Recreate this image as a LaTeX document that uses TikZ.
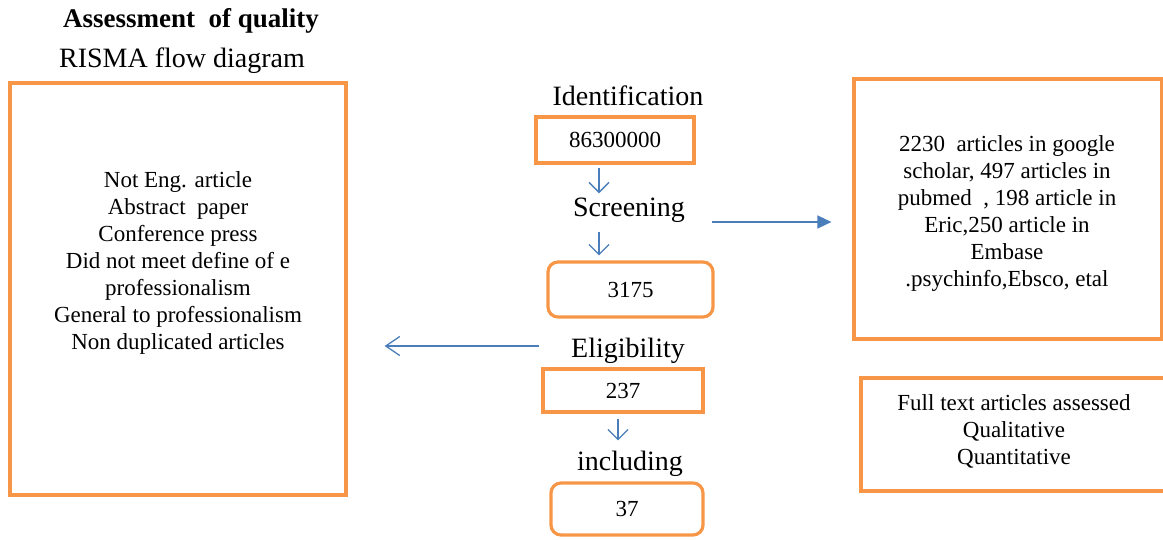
\documentclass[tikz,border=0pt]{standalone}
\usepackage{fontspec}
\setmainfont{Liberation Serif}
\usetikzlibrary{arrows.meta}
\definecolor{boxorange}{HTML}{F79646}
\definecolor{arrowblue}{HTML}{4A7EBB}
\begin{document}
\begin{tikzpicture}[x=1pt,y=-1pt,
  obox/.style={draw=boxorange,line width=3.2pt,inner sep=0pt,font=\fontsize{23}{27}\selectfont},
  rbox/.style={obox,rounded corners=10pt},
  head/.style={anchor=base,inner sep=3pt,font=\fontsize{28}{32}\selectfont},
  body/.style={align=center,inner sep=0pt,font=\fontsize{23}{27}\selectfont},
  flow/.style={draw=arrowblue,line width=1.3pt,-{Straight Barb[length=10pt,width=20pt]}},
  flowl/.style={draw=arrowblue,line width=1.3pt,-{Straight Barb[length=14pt,width=19pt]}},
  flowr/.style={draw=arrowblue,line width=1.6pt,-{Triangle[length=14pt,width=13pt]}}]
\useasboundingbox (0,0) rectangle (1163,540);

% titles
\node[anchor=base,inner sep=0pt,font=\fontsize{27}{32}\selectfont\bfseries] (title) at (191,28) {Assessment\ \ of quality};
\node[anchor=base,inner sep=0pt,font=\fontsize{28}{32}\selectfont] (subtitle) at (182,68) {RISMA flow diagram};

% left box
\node[obox,minimum width=336pt,minimum height=412pt] (lbox) at (178,289) {};
\node[body] (ltext) at (178,263) {Not Eng. article\\Abstract\ \ paper\\Conference press\\Did not meet define of e\\professionalism\\General to professionalism\\Non duplicated articles};

% central column
\node[head] (ident) at (628,106) {Identification};
\node[obox,minimum width=158pt,minimum height=46pt] (b1) at (615,140) {86300000};
\node[head] (screen) at (629,217) {Screening};
\node[rbox,minimum width=165pt,minimum height=55pt] (b2) at (630.5,289.5) {3175};
\node[head] (elig) at (628,358) {Eligibility};
\node[obox,minimum width=160pt,minimum height=43pt] (b3) at (623,390.5) {237};
\node[head] (incl) at (630,470) {including};
\node[rbox,minimum width=152pt,minimum height=52pt] (b4) at (627,509) {37};

% right boxes
\node[obox,minimum width=308pt,minimum height=260pt] (rtop) at (1008,209) {};
\node[body] (rtoptext) at (1007,214) {2230\ \ articles in google\\scholar, 497 articles in\\pubmed\ \ , 198 article in\\Eric,250 article\ in\\Embase\\.psychinfo,Ebsco, etal};
\node[obox,minimum width=304pt,minimum height=113pt] (rbot) at (1013,434.5) {};
\node[body] (rbottext) at (1014,431) {Full text articles assessed\\Qualitative\\Quantitative};

% connectors
\coordinate (colA) at (599,0);
\coordinate (colB) at (618,0);
\coordinate (rowA) at (0,222);
\coordinate (rowB) at (0,346);
\draw[flow,shorten <=3pt,shorten >=2pt] (b1.south -| colA) -- (screen.north -| colA);
\draw[flow,shorten <=6pt,shorten >=5pt] (screen.south -| colA) -- (b2.north -| colA);
\draw[flow,shorten <=5pt,shorten >=7pt] (b3.south -| colB) -- (incl.north -| colB);
\draw[flowr,shorten <=24pt,shorten >=21pt] (screen.east |- rowA) -- (rtop.west |- rowA);
\draw[flowl,shorten <=29pt,shorten >=37pt] (elig.west |- rowB) -- (lbox.east |- rowB);
\end{tikzpicture}
\end{document}
